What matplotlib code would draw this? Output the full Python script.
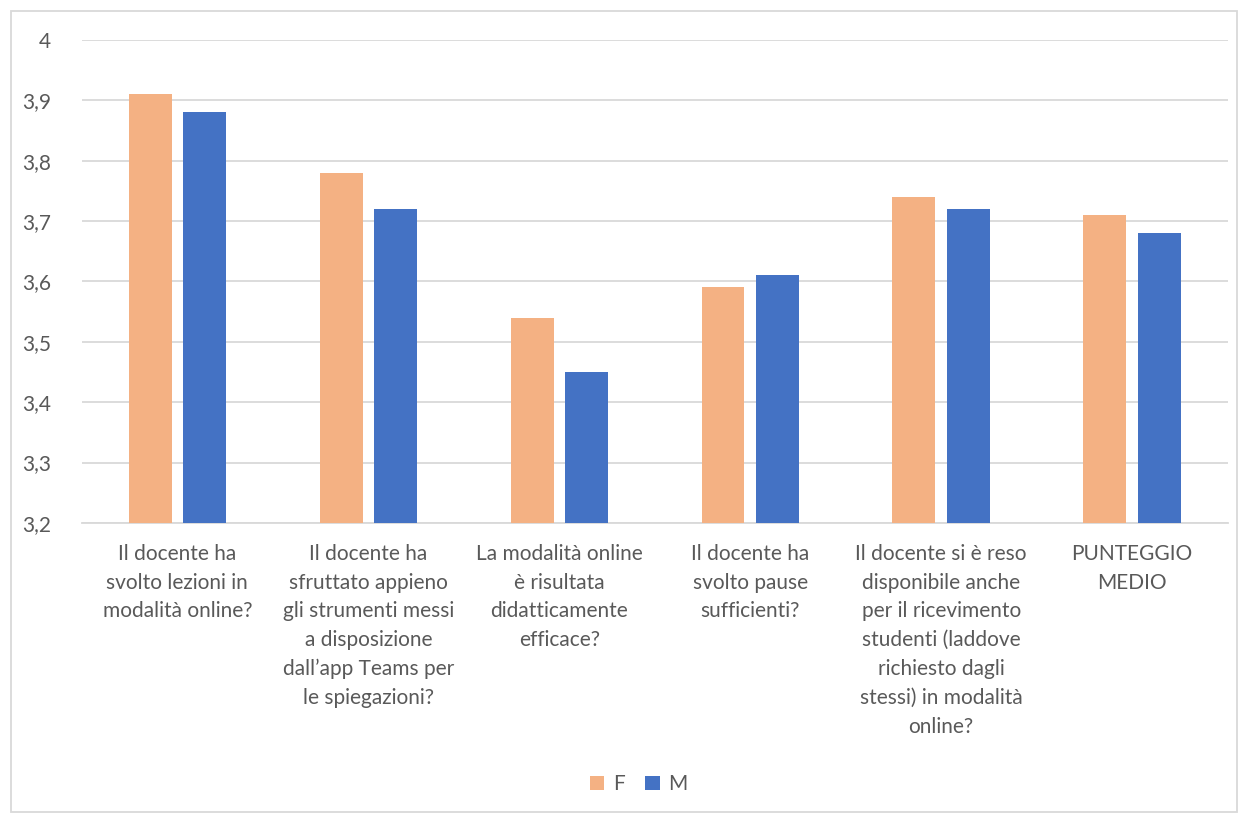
import numpy as np
import matplotlib.pyplot as plt
from matplotlib.patches import Rectangle

plt.rcParams['font.family'] = ['Lato', 'DejaVu Sans']

# data
categories = [
    "Il docente ha\nsvolto lezioni in\nmodalità online?",
    "Il docente ha\nsfruttato appieno\ngli strumenti messi\na disposizione\ndall’app Teams per\nle spiegazioni?",
    "La modalità online\nè risultata\ndidatticamente\nefficace?",
    "Il docente ha\nsvolto pause\nsufficienti?",
    "Il docente si è reso\ndisponibile anche\nper il ricevimento\nstudenti (laddove\nrichiesto dagli\nstessi) in modalità\nonline?",
    "PUNTEGGIO\nMEDIO",
]
f_values = [3.91, 3.78, 3.54, 3.59, 3.74, 3.71]
m_values = [3.88, 3.72, 3.45, 3.61, 3.72, 3.68]
yticks = [3.2, 3.3, 3.4, 3.5, 3.6, 3.7, 3.8, 3.9, 4.0]

orange = '#f4b183'
blue = '#4472c4'
grey = '#595959'

fig = plt.figure(figsize=(12.4, 8.17), dpi=100)
ax = fig.add_axes([0.066, 0.36, 0.924, 0.591])

x = np.arange(len(categories))
w = 0.225
off = w / 2 + 0.03
ax.bar(x - off, np.array(f_values) - 3.2, w, bottom=3.2, color=orange, label='F', zorder=3)
ax.bar(x + off, np.array(m_values) - 3.2, w, bottom=3.2, color=blue, label='M', zorder=3)

ax.set_xlim(-0.5, len(categories) - 0.5)
ax.set_ylim(3.2, 4.0)
ax.set_yticks(yticks)
ax.set_yticklabels([('%g' % v).replace('.', ',') for v in yticks], color=grey, fontsize=15)
ax.yaxis.grid(True, color='#d9d9d9', linewidth=1.3, zorder=0)
ax.tick_params(axis='y', length=0, pad=22)
ax.tick_params(axis='x', length=0, pad=15)
ax.set_xticks(x)
ax.set_xticklabels(categories, color=grey, fontsize=15, linespacing=1.55)
for s in ['top', 'right', 'left']:
    ax.spines[s].set_visible(False)
ax.spines['bottom'].set_color('#d9d9d9')
ax.spines['bottom'].set_linewidth(1.3)

leg = fig.legend(loc='center', bbox_to_anchor=(0.515, 0.04), ncol=2, frameon=False,
                 fontsize=15, handlelength=0.7, handleheight=0.7, columnspacing=1.0,
                 handletextpad=0.4)
for t in leg.get_texts():
    t.set_color(grey)

fig.patches.append(Rectangle((11 / 1240, 5 / 817), 1226 / 1240, 801 / 817,
                             transform=fig.transFigure, fill=False,
                             edgecolor='#d9d9d9', linewidth=1.3))

fig.savefig('out.png', dpi=100)
